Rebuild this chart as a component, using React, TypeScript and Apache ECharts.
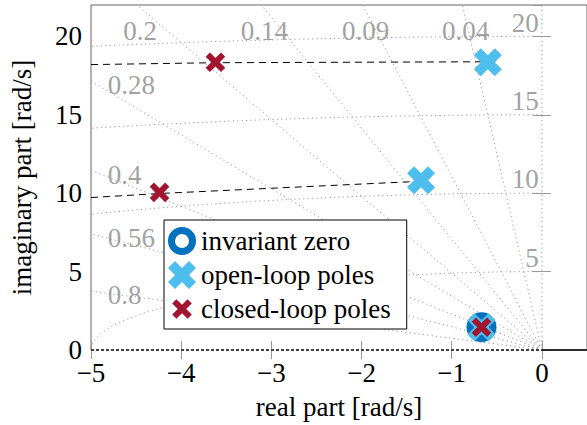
import React, { useEffect, useRef } from 'react';
import * as echarts from 'echarts';

// ---- data ----
const zetaValues = [0.04, 0.09, 0.14, 0.2, 0.28, 0.4, 0.56, 0.8];
const zetaLabels = ['0.04', '0.09', '0.14', '0.2', '0.28', '0.4', '0.56', '0.8'];
const wnValues = [5, 10, 15, 20];
const wnLabels = ['5', '10', '15', '20'];
const invariantZeros = [[-0.67, 1.45]];
const openLoopPoles = [[-0.6, 18.35], [-1.34, 10.82], [-0.67, 1.45]];
const closedLoopPoles = [[-3.62, 18.35], [-4.24, 10.05], [-0.67, 1.45]];
const locusUpper = [[-5, 18.2], [-3.62, 18.32], [-0.6, 18.38]];
const locusLower = [[-5, 9.72], [-4.24, 9.98], [-1.34, 10.76]];
const locusReal = [[-5, 0], [0, 0]];
const realAxisRight = [[0, 0], [0.5, 0]];

const X_MIN = -5;
const X_MAX = 0.5;
const Y_MIN = 0;
const Y_MAX = 22;

const FONT = "'Liberation Serif', 'Times New Roman', serif";
const GRID_GRAY = '#9a9a9a';
const LABEL_GRAY = '#888888';

const BIG_X =
  'path://M0,25 L25,0 L50,25 L75,0 L100,25 L75,50 L100,75 L75,100 L50,75 L25,100 L0,75 L25,50 Z';
const SMALL_X =
  'path://M0,0 L0.1,0 L0.1,0.1 Z M100,100 L99.9,100 L99.9,99.9 Z ' +
  'M15,30 L30,15 L50,35 L70,15 L85,30 L65,50 L85,70 L70,85 L50,65 L30,85 L15,70 L35,50 Z';
const RING =
  'path://M0,50 A50,50 0 1,1 100,50 A50,50 0 1,1 0,50 Z M25,50 A25,25 0 1,0 75,50 A25,25 0 1,0 25,50 Z';

function zetaEnd(z: number): number[] {
  if (z === 0) return [0, Y_MAX];
  const s = Math.sqrt(1 - z * z);
  const xTop = (-Y_MAX * z) / s;
  if (xTop >= X_MIN) return [xTop, Y_MAX];
  return [X_MIN, (-X_MIN * s) / z];
}

function fmtX(v: number): string {
  if (!Number.isInteger(v)) return '';
  return v < 0 ? '\u2212' + String(-v) : String(v);
}

export default function App() {
  const ref = useRef<HTMLDivElement>(null);

  useEffect(() => {
    if (!ref.current) return;
    const chart = echarts.init(ref.current, undefined, { renderer: 'svg' });

    const topLabels: any[] = [];
    const leftLabels: any[] = [];
    zetaValues.forEach((z, i) => {
      const e = zetaEnd(z);
      if (e[1] === Y_MAX) topLabels.push({ name: zetaLabels[i], value: [e[0] + 0.04, 20.28] });
      else leftLabels.push({ name: zetaLabels[i], value: [-4.81, e[1] - 0.3] });
    });
    const wnLabelData = wnValues.map((w, i) => ({ name: wnLabels[i], value: [-0.03, w + 0.85] }));

    const labelSeries = (data: any[], align: string) => ({
      type: 'scatter',
      data,
      symbol: 'circle',
      symbolSize: 1,
      silent: true,
      itemStyle: { color: 'rgba(0,0,0,0)' },
      label: {
        show: true,
        formatter: (p: any) => p.name,
        position: [0, 0],
        align,
        verticalAlign: 'middle',
        color: LABEL_GRAY,
        fontFamily: FONT,
        fontSize: 27,
        lineHeight: 22,
      },
      z: 3,
    });

    const dotted = { stroke: GRID_GRAY, lineWidth: 1, lineDash: [1.2, 3.2], fill: 'none' };

    const option: any = {
      animation: false,
      grid: {
        left: 89,
        top: 5,
        width: 499.4,
        height: 346,
        show: true,
        borderColor: '#666',
        borderWidth: 1,
        backgroundColor: 'transparent',
      },
      xAxis: [
        {
          type: 'value',
          min: X_MIN,
          max: X_MAX,
          interval: 1,
          position: 'bottom',
          name: 'real part [rad/s]',
          nameLocation: 'middle',
          nameGap: 43,
          nameTextStyle: { fontFamily: FONT, fontSize: 27, color: '#000' },
          axisLine: { show: false },
          axisTick: { show: true, inside: true, length: 9, lineStyle: { color: '#999' } },
          axisLabel: {
            formatter: fmtX,
            fontFamily: FONT,
            fontSize: 27,
            lineHeight: 21,
            color: '#000',
            margin: 12,
            showMaxLabel: false,
          },
          splitLine: { show: false },
        },
        {
          type: 'value',
          min: X_MIN,
          max: X_MAX,
          interval: 1,
          position: 'top',
          axisLine: { show: false },
          axisTick: { show: true, inside: true, length: 9, lineStyle: { color: '#999' } },
          axisLabel: { show: false },
          splitLine: { show: false },
        },
      ],
      yAxis: [
        {
          type: 'value',
          min: Y_MIN,
          max: Y_MAX,
          interval: 5,
          position: 'left',
          name: 'imaginary part [rad/s]',
          nameLocation: 'middle',
          nameGap: 56,
          nameTextStyle: { fontFamily: FONT, fontSize: 27, color: '#000' },
          axisLine: { show: false },
          axisTick: { show: true, inside: true, length: 9, lineStyle: { color: '#999' } },
          axisLabel: {
            formatter: (v: number) => (v % 5 === 0 ? String(v) : ''),
            fontFamily: FONT,
            fontSize: 27,
            lineHeight: 20,
            color: '#000',
            margin: 9,
            showMaxLabel: false,
          },
          splitLine: { show: false },
        },
        {
          type: 'value',
          min: Y_MIN,
          max: Y_MAX,
          interval: 5,
          position: 'right',
          axisLine: { show: false },
          axisTick: { show: true, inside: true, length: 9, lineStyle: { color: '#999' } },
          axisLabel: { show: false },
          splitLine: { show: false },
        },
      ],
      legend: {
        orient: 'vertical',
        left: 164,
        top: 220,
        itemWidth: 28,
        itemHeight: 28,
        itemGap: 6,
        padding: [7, 16, 6, 4],
        backgroundColor: '#fff',
        borderColor: '#000',
        borderWidth: 1,
        borderRadius: 0,
        selectedMode: false,
        textStyle: { fontFamily: FONT, fontSize: 27, color: '#000', lineHeight: 28 },
        data: [
          { name: 'invariant zero', icon: RING },
          { name: 'open-loop poles', icon: BIG_X },
          { name: 'closed-loop poles', icon: SMALL_X },
        ],
      },
      series: [
        // damping ratio lines
        {
          type: 'custom',
          coordinateSystem: 'cartesian2d',
          silent: true,
          data: [0, ...zetaValues].map((z) => [z, 0]),
          renderItem: (params: any, api: any) => {
            const z = api.value(0);
            const e = zetaEnd(z);
            const p0 = api.coord([0, 0]);
            const p1 = api.coord(e);
            return {
              type: 'line',
              shape: { x1: p0[0], y1: p0[1], x2: p1[0], y2: p1[1] },
              style: dotted,
            };
          },
          z: 1,
        },
        // natural frequency arcs
        {
          type: 'custom',
          coordinateSystem: 'cartesian2d',
          silent: true,
          data: wnValues.map((w) => [w, 0]),
          renderItem: (params: any, api: any) => {
            const w = api.value(0);
            const o = api.coord([0, 0]);
            const rx = api.size([w, 0])[0];
            const ry = api.size([0, w])[1];
            const tEnd = w > -X_MIN ? Math.acos(X_MIN / w) : Math.PI;
            const pts: number[][] = [];
            const n = 120;
            for (let i = 0; i <= n; i++) {
              const t = Math.PI / 2 + ((tEnd - Math.PI / 2) * i) / n;
              pts.push([o[0] + rx * Math.cos(t), o[1] - ry * Math.sin(t)]);
            }
            return {
              type: 'polyline',
              shape: { points: pts },
              style: dotted,
            };
          },
          z: 1,
        },
        labelSeries(topLabels, 'center'),
        labelSeries(leftLabels, 'left'),
        labelSeries(wnLabelData, 'right'),
        // real axis: white cover + dashed locus + solid right part
        {
          type: 'line',
          data: locusReal,
          symbol: 'none',
          silent: true,
          clip: false,
          lineStyle: { color: '#fff', width: 2 },
          z: 2,
        },
        {
          type: 'line',
          data: locusReal,
          symbol: 'none',
          silent: true,
          clip: false,
          lineStyle: { color: '#000', width: 1.4, type: [3, 2] },
          z: 2,
        },
        {
          type: 'line',
          data: realAxisRight,
          symbol: 'none',
          silent: true,
          clip: false,
          lineStyle: { color: '#000', width: 1.4 },
          z: 2,
        },
        {
          type: 'line',
          data: locusUpper,
          symbol: 'none',
          silent: true,
          lineStyle: { color: '#000', width: 1, type: [7, 5] },
          z: 2,
        },
        {
          type: 'line',
          data: locusLower,
          symbol: 'none',
          silent: true,
          lineStyle: { color: '#000', width: 1, type: [7, 5] },
          z: 2,
        },
        {
          name: 'invariant zero',
          type: 'scatter',
          data: invariantZeros,
          symbol: RING,
          symbolSize: 30,
          itemStyle: { color: '#0072BD', opacity: 1 },
          z: 3,
        },
        {
          name: 'open-loop poles',
          type: 'scatter',
          data: openLoopPoles,
          symbol: BIG_X,
          symbolSize: 28,
          itemStyle: { color: '#4DBEEE', opacity: 1 },
          z: 3,
        },
        {
          name: 'closed-loop poles',
          type: 'scatter',
          data: closedLoopPoles,
          symbol: SMALL_X,
          symbolSize: 28,
          itemStyle: { color: '#A2142F', opacity: 1 },
          z: 3,
        },
      ],
    };

    chart.setOption(option);
    return () => chart.dispose();
  }, []);

  return (
    <div
      ref={ref}
      style={{ position: 'absolute', left: 0, top: 0, width: 587, height: 425, background: '#fff' }}
    />
  );
}
